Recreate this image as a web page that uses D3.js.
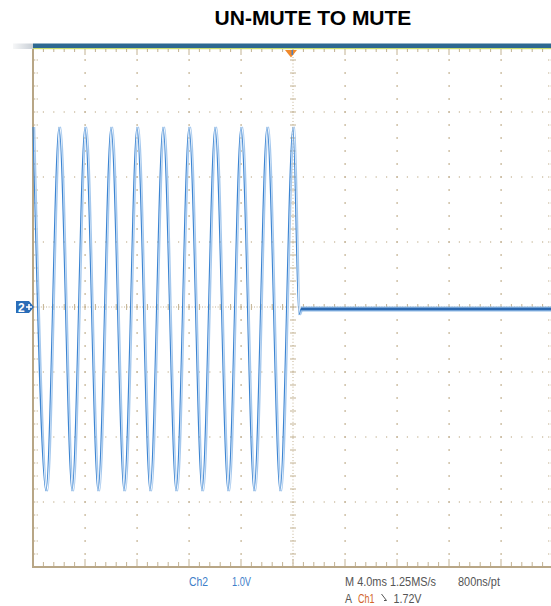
<!DOCTYPE html>
<html><head><meta charset="utf-8">
<script src="https://cdn.jsdelivr.net/npm/d3@7"></script>
<style>html,body{margin:0;padding:0;background:#fff;}svg{display:block;}</style>
</head><body><div id="chart"></div>
<script>
// ---- data ----
const title = "UN-MUTE TO MUTE";
// Ch2 trace before mute: peaks/troughs (ms, V)
const waveTime = [-20,-19,-18,-17,-16,-15,-14,-13,-12,-11,-10,-9,-8,-7,-6,-5,-4,-3,-2,-1,0,0.45,0.6];
const waveVolt = [2.77,-2.83,2.77,-2.83,2.77,-2.83,2.77,-2.83,2.77,-2.83,2.77,-2.83,2.77,-2.83,2.77,-2.83,2.77,-2.83,2.77,-2.83,2.77,-0.12,-0.03];
// Ch2 trace after mute (flat)
const muteTime = [0.6, 5, 10, 15, 20.5];
const muteVolt = [-0.03, -0.03, -0.03, -0.03, -0.03];
const xDomain = [-20, 20];   // ms, 4 ms/div
const yDomain = [-4, 4];     // V, 1 V/div
const readoutRow1 = [
  {text:"Ch2", x:189, w:19, color:"#3d7ec9"},
  {text:"1.0V", x:232, w:19, color:"#3d7ec9"},
  {text:"M 4.0ms 1.25MS/s", x:345, w:91, color:"#555"},
  {text:"800ns/pt", x:458, w:42, color:"#555"}
];
const readoutRow2 = [
  {text:"A", x:345, w:7, color:"#555"},
  {text:"Ch1", x:358, w:16.5, color:"#d2642a"},
  {text:"1.72V", x:393.5, w:28, color:"#555"}
];

// ---- drawing ----
const W = 551, H = 606;
const L = 33, R = 553, T = 47, B = 567;
const svg = d3.select("#chart").append("svg").attr("width", W).attr("height", H);

const x = d3.scaleLinear().domain(xDomain).range([L, R]);
const y = d3.scaleLinear().domain(yDomain).range([B, T]);

const grid = "#c3b292", border = "#b8a686";

// title
svg.append("text").attr("x", 313).attr("y", 25).attr("text-anchor", "middle")
  .attr("font-family", "Liberation Sans, Arial, sans-serif").attr("font-weight", "bold")
  .attr("font-size", 21).attr("fill", "#000").text(title);

// top bar
const defs = svg.append("defs");
const gr = defs.append("linearGradient").attr("id", "gp");
gr.append("stop").attr("offset", "0").attr("stop-color", "#f6f7f8");
gr.append("stop").attr("offset", "1").attr("stop-color", "#c9cfd6");
svg.append("rect").attr("x", 13).attr("y", 43.5).attr("width", 20).attr("height", 5.5).attr("fill", "url(#gp)");
svg.append("rect").attr("x", L).attr("y", 43.5).attr("width", W - L).attr("height", 4.5).attr("fill", "#2d6891");
svg.append("rect").attr("x", L).attr("y", 48).attr("width", W - L).attr("height", 1.2).attr("fill", "#c7da6e");

const g = svg.append("g");

// minor positions
const xMinor = d3.range(xDomain[0], xDomain[1] + 0.001, 0.8);
const yMinor = d3.range(yDomain[0], yDomain[1] + 0.001, 0.2);
const xMajor = d3.range(xDomain[0] + 4, xDomain[1], 4);
const yMajor = d3.range(yDomain[0] + 1, yDomain[1], 1);

// vertical dotted gridlines
xMajor.filter(v => v !== 0).forEach(v => {
  g.selectAll(null).data(yMinor.slice(1, -1)).enter().append("rect")
    .attr("x", x(v) - 0.5).attr("y", d => y(d) - 1).attr("width", 1.2).attr("height", 2).attr("fill", grid);
});
// horizontal dotted gridlines
yMajor.filter(v => v !== 0).forEach(v => {
  g.selectAll(null).data(xMinor.slice(1, -1)).enter().append("rect")
    .attr("x", d => x(d) - 0.6).attr("y", y(v) - 0.6).attr("width", 1.2).attr("height", 1.2).attr("fill", grid);
});
// center crosshair: dense dots + minor ticks
g.append("line").attr("x1", x(0)).attr("x2", x(0)).attr("y1", T + 10).attr("y2", B)
  .attr("stroke", grid).attr("stroke-width", 1).attr("stroke-dasharray", "1,2.2");
g.append("line").attr("x1", L).attr("x2", R).attr("y1", y(0)).attr("y2", y(0))
  .attr("stroke", grid).attr("stroke-width", 1).attr("stroke-dasharray", "1,1.6");
g.selectAll(null).data(yMinor.slice(1, -1)).enter().append("line")
  .attr("x1", x(0) - 3).attr("x2", x(0) + 3).attr("y1", d => y(d)).attr("y2", d => y(d))
  .attr("stroke", grid).attr("stroke-width", 1);
g.selectAll(null).data(xMinor.slice(1, -1)).enter().append("line")
  .attr("x1", d => x(d)).attr("x2", d => x(d)).attr("y1", y(0) - 3).attr("y2", y(0) + 3)
  .attr("stroke", grid).attr("stroke-width", 1);

// border ticks
g.selectAll(null).data(xMinor.slice(1, -1)).enter().append("line")
  .attr("x1", d => x(d)).attr("x2", d => x(d)).attr("y1", T + 2).attr("y2", d => Math.abs(d % 4) < 0.01 ? T + 8 : T + 5)
  .attr("stroke", grid).attr("stroke-width", 1);
g.selectAll(null).data(xMinor.slice(1, -1)).enter().append("line")
  .attr("x1", d => x(d)).attr("x2", d => x(d)).attr("y1", B - 1).attr("y2", d => Math.abs(d % 4) < 0.01 ? B - 8 : B - 5)
  .attr("stroke", grid).attr("stroke-width", 1);
g.selectAll(null).data(yMinor.slice(1, -1)).enter().append("line")
  .attr("x1", L + 1).attr("x2", L + 5).attr("y1", d => y(d)).attr("y2", d => y(d))
  .attr("stroke", grid).attr("stroke-width", 1.2).attr("stroke-dasharray", "1.3,1.3");
g.selectAll(null).data(yMinor.slice(1, -1)).enter().append("line")
  .attr("x1", R - 5).attr("x2", R - 1).attr("y1", d => y(d)).attr("y2", d => y(d))
  .attr("stroke", grid).attr("stroke-width", 1.2).attr("stroke-dasharray", "1.3,1.3");

// frame (left and bottom)
g.append("line").attr("x1", L).attr("x2", L).attr("y1", T + 2).attr("y2", B + 1).attr("stroke", border).attr("stroke-width", 2);
g.append("line").attr("x1", L - 1).attr("x2", W).attr("y1", B).attr("y2", B).attr("stroke", border).attr("stroke-width", 2);

// waveform
const line = d3.line().x(d => x(d[0])).y(d => y(d[1])).curve(d3.curveMonotoneX);
const wave = waveTime.map((t, i) => [t, waveVolt[i]]);
const mute = muteTime.map((t, i) => [t, muteVolt[i]]);
const tr = svg.append("g");
tr.append("path").attr("d", line(wave)).attr("fill", "none").attr("stroke", "#a6c9ee").attr("stroke-width", 1.4)
  .attr("transform", "translate(1.6,0)");
tr.append("path").attr("d", line(wave)).attr("fill", "none").attr("stroke", "#3b84d2").attr("stroke-width", 1.1);
tr.append("path").attr("d", line(mute)).attr("fill", "none").attr("stroke", "#8fb9e6").attr("stroke-width", 5);
tr.append("path").attr("d", line(mute)).attr("fill", "none").attr("stroke", "#2b68b0").attr("stroke-width", 2.4);

// trigger marker
const tx = x(0) - 2;
svg.append("path").attr("d", `M${tx - 6},50 L${tx + 6},50 L${tx},57.5 Z`).attr("fill", "#f0892c");
svg.append("rect").attr("x", tx + 0.5).attr("y", 50).attr("width", 1.5).attr("height", 5).attr("fill", "#5a7fb0");

// channel 2 ground marker
const gy = y(0);
svg.append("path").attr("d", `M16,${gy - 6} L29,${gy - 6} L34,${gy} L29,${gy + 6} L16,${gy + 6} Z`).attr("fill", "#2a6db8");
svg.append("text").attr("x", 18).attr("y", gy + 4.5).attr("font-family", "Liberation Sans, Arial, sans-serif")
  .attr("font-size", 12).attr("font-weight", "bold").attr("fill", "#fff").text("2");
svg.append("path").attr("d", `M26,${gy} L32,${gy} M29,${gy - 3} L29,${gy + 3}`).attr("stroke", "#fff").attr("stroke-width", 1.6);

// readouts
const font = "Liberation Sans, Arial, sans-serif";
readoutRow1.forEach(d => {
  svg.append("text").attr("x", d.x).attr("y", 586).attr("font-family", font).attr("font-size", 13.5)
    .attr("fill", d.color).attr("textLength", d.w).attr("lengthAdjust", "spacingAndGlyphs").text(d.text);
});
readoutRow2.forEach(d => {
  svg.append("text").attr("x", d.x).attr("y", 602.5).attr("font-family", font).attr("font-size", 13.5)
    .attr("fill", d.color).attr("textLength", d.w).attr("lengthAdjust", "spacingAndGlyphs").text(d.text);
});
// falling-edge symbol
svg.append("path").attr("d", "M381.5,594 L386.5,600.5 M384,600.5 L386.5,600.5").attr("stroke", "#555").attr("stroke-width", 1).attr("fill", "none");
</script></body></html>
